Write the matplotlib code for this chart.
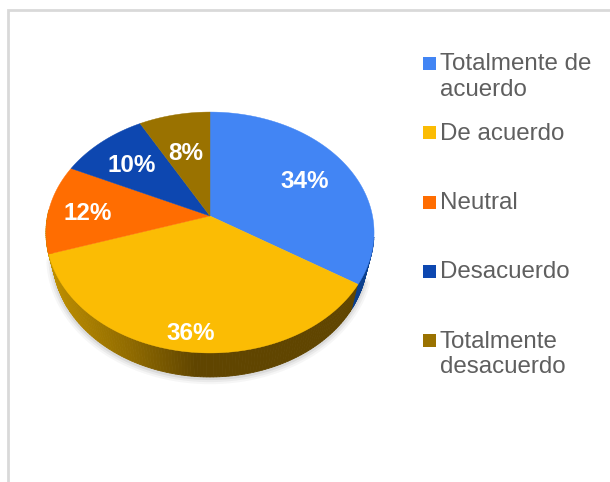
import numpy as np
import matplotlib
matplotlib.use("Agg")
import matplotlib.pyplot as plt
from matplotlib.colors import to_rgb

plt.rcParams['font.family'] = ['Liberation Sans', 'DejaVu Sans']

# Datos de la encuesta
categorias = ["Totalmente de\nacuerdo", "De acuerdo", "Neutral", "Desacuerdo", "Totalmente\ndesacuerdo"]
valores = [34, 36, 12, 10, 8]
colores = ['#4285f4', '#fbbc04', '#ff6d01', '#0d47b0', '#9a7200']

# Posiciones de etiquetas y leyenda (pixeles)
pos_etiquetas = [(305, 181), (191, 333), (88, 214), (132, 165), (186, 154)]
y_cuadros = [63.5, 132.5, 202.5, 271.5, 340.5]
y_textos = [77, 134, 203, 272, 354.5]

# Disco en perspectiva
cx, cy = 210, 216
rx, ry, k = 162.5, 118.2, 0.137
grosor, escala_base = 24, 0.96


def proyectar(theta):
    u, v = np.sin(theta), np.cos(theta)
    w = 1 + k * v
    return cx + rx * u / w, cy - ry * v / w


def base(theta):
    x, y = proyectar(theta)
    return cx + (x - cx) * escala_base, y + grosor


def color_lateral(x):
    # degradado del costado dorado, de izquierda a derecha
    c1, c2, c3 = [np.array(to_rgb(c)) for c in ('#bd8e00', '#8f6a00', '#604500')]
    if x < 130:
        return c1 + (c2 - c1) * max(x - 50, 0) / 80
    return c2 + (c3 - c2) * min((x - 130) / 65, 1)


fig = plt.figure(figsize=(6.10, 4.82), dpi=100)
ax = fig.add_axes([0, 0, 1, 1])
ax.set_xlim(0, 610)
ax.set_ylim(482, 0)
ax.axis('off')

# Marco gris
ax.plot([8, 8, 610], [482, 10, 10], color='#d9d9d9', lw=2.0, solid_joinstyle='miter')

# Sombra suave bajo el disco
t_sombra = np.radians(np.linspace(110, 260, 120))
xs, ys = base(t_sombra)
for ancho, alfa in zip([9, 6, 3], [0.05, 0.07, 0.10]):
    ax.plot(xs, ys + 1, color='#555555', lw=ancho, alpha=alfa, solid_capstyle='round')

# Limites de cada sector en radianes, sentido horario desde arriba
bordes = 2 * np.pi * np.cumsum([0] + valores) / sum(valores)

# Costado: tiras verticales entre el borde superior y la base
paso = np.radians(1.0)
for a in np.arange(np.radians(100), np.radians(272), paso):
    x0, y0 = proyectar(a)
    x1, y1 = proyectar(a + paso)
    x2, y2 = base(a + paso)
    x3, y3 = base(a)
    if a < bordes[1]:
        c = '#0b3f8c'
    else:
        c = color_lateral((x0 + x1) / 2)
    ax.fill([x0, x1, x2, x3], [y0, y1, y2, y3], color=c, lw=0.6, zorder=2)

# Cara superior
for i, color in enumerate(colores):
    t = np.linspace(bordes[i], bordes[i + 1], 150)
    x, y = proyectar(t)
    ax.fill(np.r_[cx, x], np.r_[cy, y], color=color, lw=0.3, zorder=3)

for v, (x, y) in zip(valores, pos_etiquetas):
    ax.text(x, y, f"{v}%", color='white', fontsize=17.5, fontweight='bold',
            ha='center', va='center', zorder=4)

# Leyenda
for cat, color, yc, yt in zip(categorias, colores, y_cuadros, y_textos):
    ax.add_patch(plt.Rectangle((423, yc - 6.5), 13, 13, color=color, lw=0, zorder=3))
    ax.text(440, yt, cat, color='#5f5f5f', fontsize=17.4, ha='left', va='center',
            linespacing=1.21, zorder=3)

fig.savefig('out.png', dpi=100)
